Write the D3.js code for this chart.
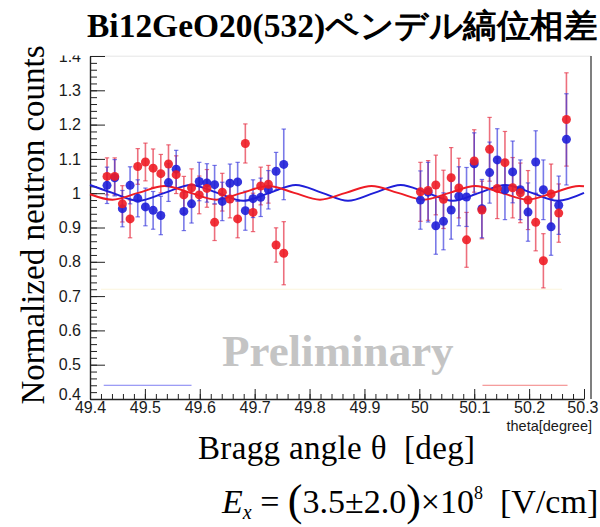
<!DOCTYPE html>
<html>
<head>
<meta charset="utf-8">
<title>Bi12GeO20(532) ペンデル縞位相差</title>
<style>
  body { margin: 0; background: #fff; }
  svg text { font-family: "Liberation Serif", "Times New Roman", serif; }
  .axis text, text.caption { font-family: "Liberation Sans", Arial, sans-serif; fill: #1a1a1a; }
</style>
</head>
<body>
<div id="chart"></div>
<script src="https://cdn.jsdelivr.net/npm/d3@7/dist/d3.min.js"></script>
<script>
// measured points, first scan (49.4 - 49.8 deg)
var thetaLeft = [49.431, 49.445, 49.459, 49.473, 49.487, 49.501, 49.515, 49.529, 49.543, 49.557, 49.571, 49.585,
                 49.599, 49.613, 49.627, 49.641, 49.655, 49.669, 49.683, 49.697, 49.711, 49.725, 49.739, 49.753];
var redLeft  = [1.049, 1.049, 0.969, 0.925, 1.078, 1.091, 1.073, 1.057, 1.085, 1.054, 0.995, 1.016,
                0.995, 1.014, 0.915, 1.003, 0.983, 0.925, 1.145, 0.944, 1.021, 1.026, 0.849, 0.825];
var redLeftErr = [0.054, 0.054, 0.053, 0.055, 0.052, 0.055, 0.056, 0.056, 0.056, 0.055, 0.054, 0.055,
                  0.055, 0.055, 0.053, 0.055, 0.055, 0.055, 0.057, 0.056, 0.055, 0.055, 0.050, 0.092];
var blueLeft = [1.023, 1.045, 0.955, 1.023, 0.985, 0.960, 0.950, 0.935, 1.031, 1.070, 0.947, 0.969,
                1.034, 1.030, 1.025, 0.976, 1.029, 1.033, 0.949, 0.984, 0.988, 1.010, 1.064, 1.084];
var blueLeftErr = [0.053, 0.053, 0.053, 0.054, 0.054, 0.055, 0.055, 0.056, 0.055, 0.055, 0.056, 0.056,
                   0.056, 0.056, 0.056, 0.056, 0.056, 0.057, 0.057, 0.055, 0.056, 0.056, 0.055, 0.103];

// measured points, second scan (50.0 - 50.3 deg)
var thetaRight = [50.002, 50.016, 50.030, 50.044, 50.058, 50.072, 50.086, 50.100, 50.114, 50.128,
                  50.142, 50.156, 50.170, 50.184, 50.198, 50.212, 50.226, 50.240, 50.254, 50.268];
var redRight  = [1.004, 1.008, 1.024, 0.982, 1.045, 1.015, 0.864, 1.094, 0.951, 1.128,
                 1.014, 1.089, 1.016, 1.001, 0.980, 0.915, 0.803, 0.998, 0.942, 1.215];
var redRightErr = [0.086, 0.087, 0.087, 0.085, 0.088, 0.087, 0.080, 0.091, 0.084, 0.093,
                   0.088, 0.091, 0.088, 0.087, 0.086, 0.083, 0.079, 0.087, 0.085, 0.136];
var blueRight = [0.980, 1.003, 0.905, 0.918, 0.951, 0.991, 0.989, 1.086, 0.955, 1.060,
                 1.097, 1.010, 1.062, 1.010, 0.945, 1.091, 1.010, 0.902, 0.965, 1.157];
var blueRightErr = [0.085, 0.087, 0.083, 0.083, 0.085, 0.086, 0.086, 0.090, 0.085, 0.089,
                    0.091, 0.087, 0.090, 0.087, 0.085, 0.091, 0.087, 0.083, 0.085, 0.133];

// fit curves at peaks, troughs and crossings
var blueFitTheta = [49.400, 49.441, 49.488, 49.536, 49.584, 49.632, 49.679, 49.727, 49.775, 49.823,
                    49.870, 49.918, 49.966, 50.014, 50.061, 50.109, 50.157, 50.205, 50.252, 50.300];
var blueFitValue = [1.024, 1.001, 0.978, 1.001, 1.024, 1.001, 0.978, 1.001, 1.024, 1.001,
                    0.978, 1.001, 1.024, 1.001, 0.978, 1.001, 1.024, 1.001, 0.978, 1.001];
var redFitTheta = [49.400, 49.441, 49.488, 49.536, 49.583, 49.630, 49.677, 49.725, 49.772, 49.819,
                   49.866, 49.913, 49.961, 50.008, 50.055, 50.102, 50.150, 50.197, 50.244, 50.291, 50.300];
var redFitValue = [0.997, 0.981, 1.001, 1.021, 1.001, 0.981, 1.001, 1.021, 1.001, 0.981,
                   1.001, 1.021, 1.001, 0.981, 1.001, 1.021, 1.001, 0.981, 1.001, 1.021, 1.020];

var xTicks = [49.4, 49.5, 49.6, 49.7, 49.8, 49.9, 50.0, 50.1, 50.2, 50.3];
var xTickLabels = ["49.4", "49.5", "49.6", "49.7", "49.8", "49.9", "50", "50.1", "50.2", "50.3"];
var yTicks = [0.4, 0.5, 0.6, 0.7, 0.8, 0.9, 1.0, 1.1, 1.2, 1.3, 1.4];
var yTickLabels = ["0.4", "0.5", "0.6", "0.7", "0.8", "0.9", "1", "1.1", "1.2", "1.3", "1.4"];

var RED = "#ee1c25", BLUE = "#1f1fd8";

function zipSeries(theta, values, errs) {
    return theta.map(function(t, i) { return { t: t, v: values[i], e: errs[i] }; });
}

function drawSeries(g, x, y, data, barColor) {
    var bars = g.append("g");
    bars.selectAll("line.bar")
        .data(data)
        .enter().append("line")
            .attr("x1", function(d) { return x(d.t); })
            .attr("x2", function(d) { return x(d.t); })
            .attr("y1", function(d) { return y(d.v - d.e); })
            .attr("y2", function(d) { return y(d.v + d.e); })
            .attr("stroke", barColor)
            .attr("stroke-width", 1.6);
    [-1, 1].forEach(function(s) {
        bars.selectAll("line.cap" + s)
            .data(data)
            .enter().append("line")
                .attr("x1", function(d) { return x(d.t) - 2.2; })
                .attr("x2", function(d) { return x(d.t) + 2.2; })
                .attr("y1", function(d) { return y(d.v + s * d.e); })
                .attr("y2", function(d) { return y(d.v + s * d.e); })
                .attr("stroke", barColor)
                .attr("stroke-width", 1.2);
    });
}

function drawDots(g, x, y, data, color) {
    g.append("g").selectAll("circle")
        .data(data)
        .enter().append("circle")
            .attr("cx", function(d) { return x(d.t); })
            .attr("cy", function(d) { return y(d.v); })
            .attr("r", 4.5)
            .attr("fill", color)
            .attr("fill-opacity", 0.9);
}

var svg = d3.select("#chart").append("svg")
    .attr("width", 600)
    .attr("height", 527);

svg.append("rect").attr("width", 600).attr("height", 527).attr("fill", "#fff");

var x = d3.scaleLinear().domain([49.4, 50.3]).range([90, 584]);
var y = d3.scaleLinear().domain([0.4, 1.4]).range([399, 56]);

// frame
svg.append("line").attr("x1", 90).attr("x2", 591).attr("y1", 56).attr("y2", 56)
    .attr("stroke", "#dcdcdc").attr("stroke-width", 1);
svg.append("line").attr("x1", 591).attr("x2", 591).attr("y1", 56).attr("y2", 399)
    .attr("stroke", "#555").attr("stroke-width", 1.5);

// faint marks left in the plot
svg.append("line").attr("x1", x(49.42)).attr("x2", x(50.26)).attr("y1", y(0.72)).attr("y2", y(0.72))
    .attr("stroke", "#fbf5dc").attr("stroke-width", 1);
svg.append("line").attr("x1", x(49.425)).attr("x2", x(49.585)).attr("y1", y(0.44)).attr("y2", y(0.44))
    .attr("stroke", "#7f7ff2").attr("stroke-width", 1);
svg.append("line").attr("x1", x(50.115)).attr("x2", x(50.27)).attr("y1", y(0.44)).attr("y2", y(0.44))
    .attr("stroke", "#f28080").attr("stroke-width", 1);

// watermark
svg.append("text")
    .attr("x", 222).attr("y", 366)
    .attr("font-size", 45).attr("font-weight", "bold")
    .attr("fill", "#c4c4c4")
    .text("Preliminary");

// axes (ROOT style, ticks inside)
var xAxis = d3.axisBottom(x).tickValues(xTicks)
    .tickFormat(function(d, i) { return xTickLabels[i]; })
    .tickSizeInner(-10).tickSizeOuter(0).tickPadding(3);
var gx = svg.append("g").attr("class", "axis").attr("transform", "translate(0,399)").call(xAxis);
gx.selectAll("text").attr("font-size", 16);
gx.selectAll(".tick:last-of-type text").attr("text-anchor", "end").attr("dx", 14);
var xMinor = d3.axisBottom(x).tickValues(x.ticks(45)).tickFormat("").tickSizeInner(-5).tickSizeOuter(0);
svg.append("g").attr("transform", "translate(0,399)").call(xMinor).select(".domain").remove();

var yAxis = d3.axisLeft(y).tickValues(yTicks)
    .tickFormat(function(d, i) { return yTickLabels[i]; })
    .tickSizeInner(-15).tickSizeOuter(0).tickPadding(9);
var gy = svg.append("g").attr("class", "axis").attr("transform", "translate(90,0)").call(yAxis);
gy.selectAll("text").attr("font-size", 16);
gy.selectAll(".tick:first-of-type text").attr("dy", "0.05em");
var yMinor = d3.axisLeft(y).tickValues(y.ticks(50)).tickFormat("").tickSizeInner(-7).tickSizeOuter(0);
svg.append("g").attr("transform", "translate(90,0)").call(yMinor).select(".domain").remove();

svg.selectAll(".domain, .tick line").attr("stroke", "#222");
svg.selectAll(".axis .domain").attr("stroke-width", 1.4);

// data
var plot = svg.append("g");
var redData = zipSeries(thetaLeft, redLeft, redLeftErr).concat(zipSeries(thetaRight, redRight, redRightErr));
var blueData = zipSeries(thetaLeft, blueLeft, blueLeftErr).concat(zipSeries(thetaRight, blueRight, blueRightErr));
drawSeries(plot, x, y, redData, "rgba(230,50,70,0.7)");
drawSeries(plot, x, y, blueData, "rgba(50,50,220,0.65)");

var fitLine = d3.line()
    .x(function(d) { return x(d[0]); })
    .y(function(d) { return y(d[1]); })
    .curve(d3.curveMonotoneX);
plot.append("path")
    .attr("d", fitLine(blueFitTheta.map(function(t, i) { return [t, blueFitValue[i]]; })))
    .attr("fill", "none").attr("stroke", BLUE).attr("stroke-width", 2);
plot.append("path")
    .attr("d", fitLine(redFitTheta.map(function(t, i) { return [t, redFitValue[i]]; })))
    .attr("fill", "none").attr("stroke", RED).attr("stroke-width", 2);

drawDots(plot, x, y, blueData, BLUE);
drawDots(plot, x, y, redData, RED);

// small axis caption from the original plot
svg.append("text")
    .attr("class", "caption")
    .attr("x", 592).attr("y", 431)
    .attr("text-anchor", "end")
    .attr("font-size", 14.5)
    .text("theta[degree]");

// title block covers the top of the plot picture
svg.append("rect").attr("x", 46).attr("y", 0).attr("width", 554).attr("height", 55.5).attr("fill", "#fff");
svg.append("text")
    .attr("x", 87).attr("y", 37)
    .attr("font-size", 33).attr("font-weight", "bold")
    .attr("textLength", 510).attr("lengthAdjust", "spacingAndGlyphs")
    .text("Bi12GeO20(532)ペンデル縞位相差");

// axis titles
svg.append("text")
    .attr("transform", "translate(44,225) rotate(-90)")
    .attr("text-anchor", "middle")
    .attr("font-size", 33)
    .text("Normalized neutron counts");

svg.append("text")
    .attr("x", 198).attr("y", 459)
    .attr("font-size", 33)
    .attr("textLength", 277).attr("lengthAdjust", "spacing")
    .text("Bragg angle \u03b8\u00a0 [deg]");

// field result
var f = svg.append("text").attr("x", 222).attr("y", 513).attr("font-size", 34);
f.append("tspan").attr("font-style", "italic").text("E");
f.append("tspan").attr("font-style", "italic").attr("font-size", 20).attr("dy", 6).text("x");
f.append("tspan").attr("dy", -6).text(" = ");
f.append("tspan").attr("font-size", 44).attr("dy", 2).text("(");
f.append("tspan").attr("dy", -2).text("3.5\u00b12.0");
f.append("tspan").attr("font-size", 44).attr("dy", 2).text(")");
f.append("tspan").attr("dy", -2).text("\u00d710");
f.append("tspan").attr("font-size", 18).attr("dy", -14).text("8");
f.append("tspan").attr("dy", 14).text("\u00a0 [V/cm]");
</script>
</body>
</html>
